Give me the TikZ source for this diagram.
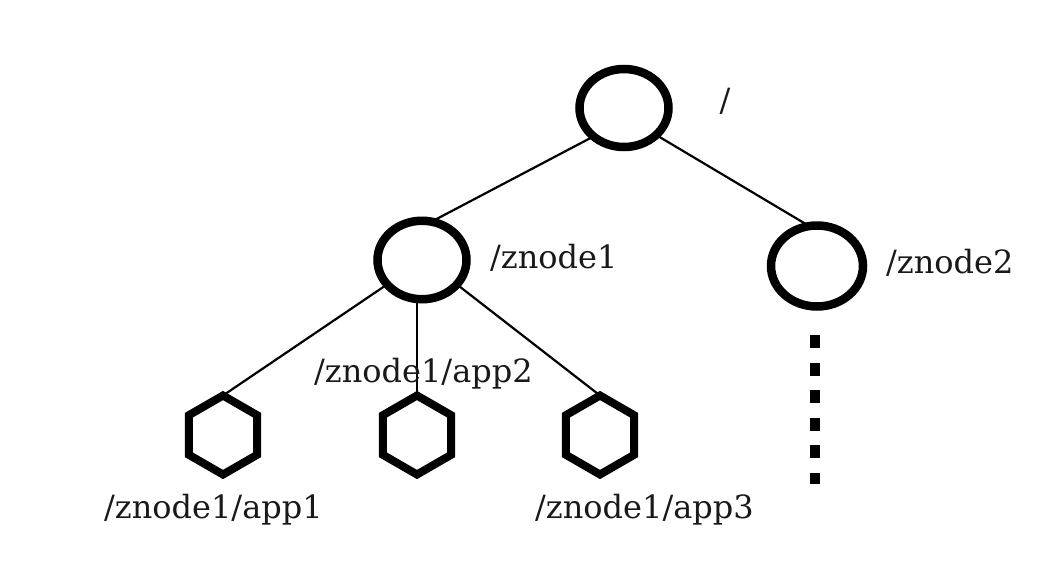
\documentclass[tikz,border=0pt]{standalone}
\usepackage{fontspec}
\setmainfont{DejaVu Serif}
\usetikzlibrary{shapes.geometric}
\begin{document}
\begin{tikzpicture}[x=1pt,y=-1pt,
  znode/.style={draw=black, line width=8.5pt, ellipse, inner sep=0pt, outer sep=0pt},
  appnode/.style={draw=black, line width=8pt, regular polygon, regular polygon sides=6,
     shape border rotate=30, minimum size=79pt, inner sep=0pt, outer sep=0pt},
  link/.style={draw=black, line width=2.2pt},
  lbl/.style={inner sep=0pt, font=\fontsize{32}{36}\selectfont, text=black!90}
]
\useasboundingbox (0,0) rectangle (1058,584);
% nodes
\node[znode, minimum width=89pt, minimum height=78pt] (root) at (624,108) {};
\node[znode, minimum width=89pt, minimum height=78.5pt] (z1) at (422,260) {};
\node[znode, minimum width=92pt, minimum height=81pt] (z2) at (817,266) {};
\node[appnode] (app1) at (223,435) {};
\node[appnode] (app2) at (417,435) {};
\node[appnode] (app3) at (600,435) {};
% connectors
\draw[link] (root.223) -- (z1.76);
\draw[link] (root.320) -- (z2.101);
\draw[link] (z1.215) -- (app1.north);
\draw[link] (app2.north |- z1.south) -- (app2.north);
\draw[link] (z1.325) -- (app3.north);
% dotted continuation
\coordinate (dotA) at (815,335);
\coordinate (dotB) at (815,484);
\draw[line width=9.5pt, dash pattern=on 13pt off 14.5pt] (dotA) -- (dotB);
% labels
\node[lbl] (lroot) at (725,101) {/};
\node[lbl, anchor=base west] (lz1) at (490,268) {/znode1};
\node[lbl, anchor=base west] (lz2) at (886,273) {/znode2};
\node[lbl, anchor=base west] (lapp2) at (314,382) {/znode1/app2};
\node[lbl, anchor=base west] (lapp1) at (104,518) {/znode1/app1};
\node[lbl, anchor=base west] (lapp3) at (535,518) {/znode1/app3};
\end{tikzpicture}
\end{document}
